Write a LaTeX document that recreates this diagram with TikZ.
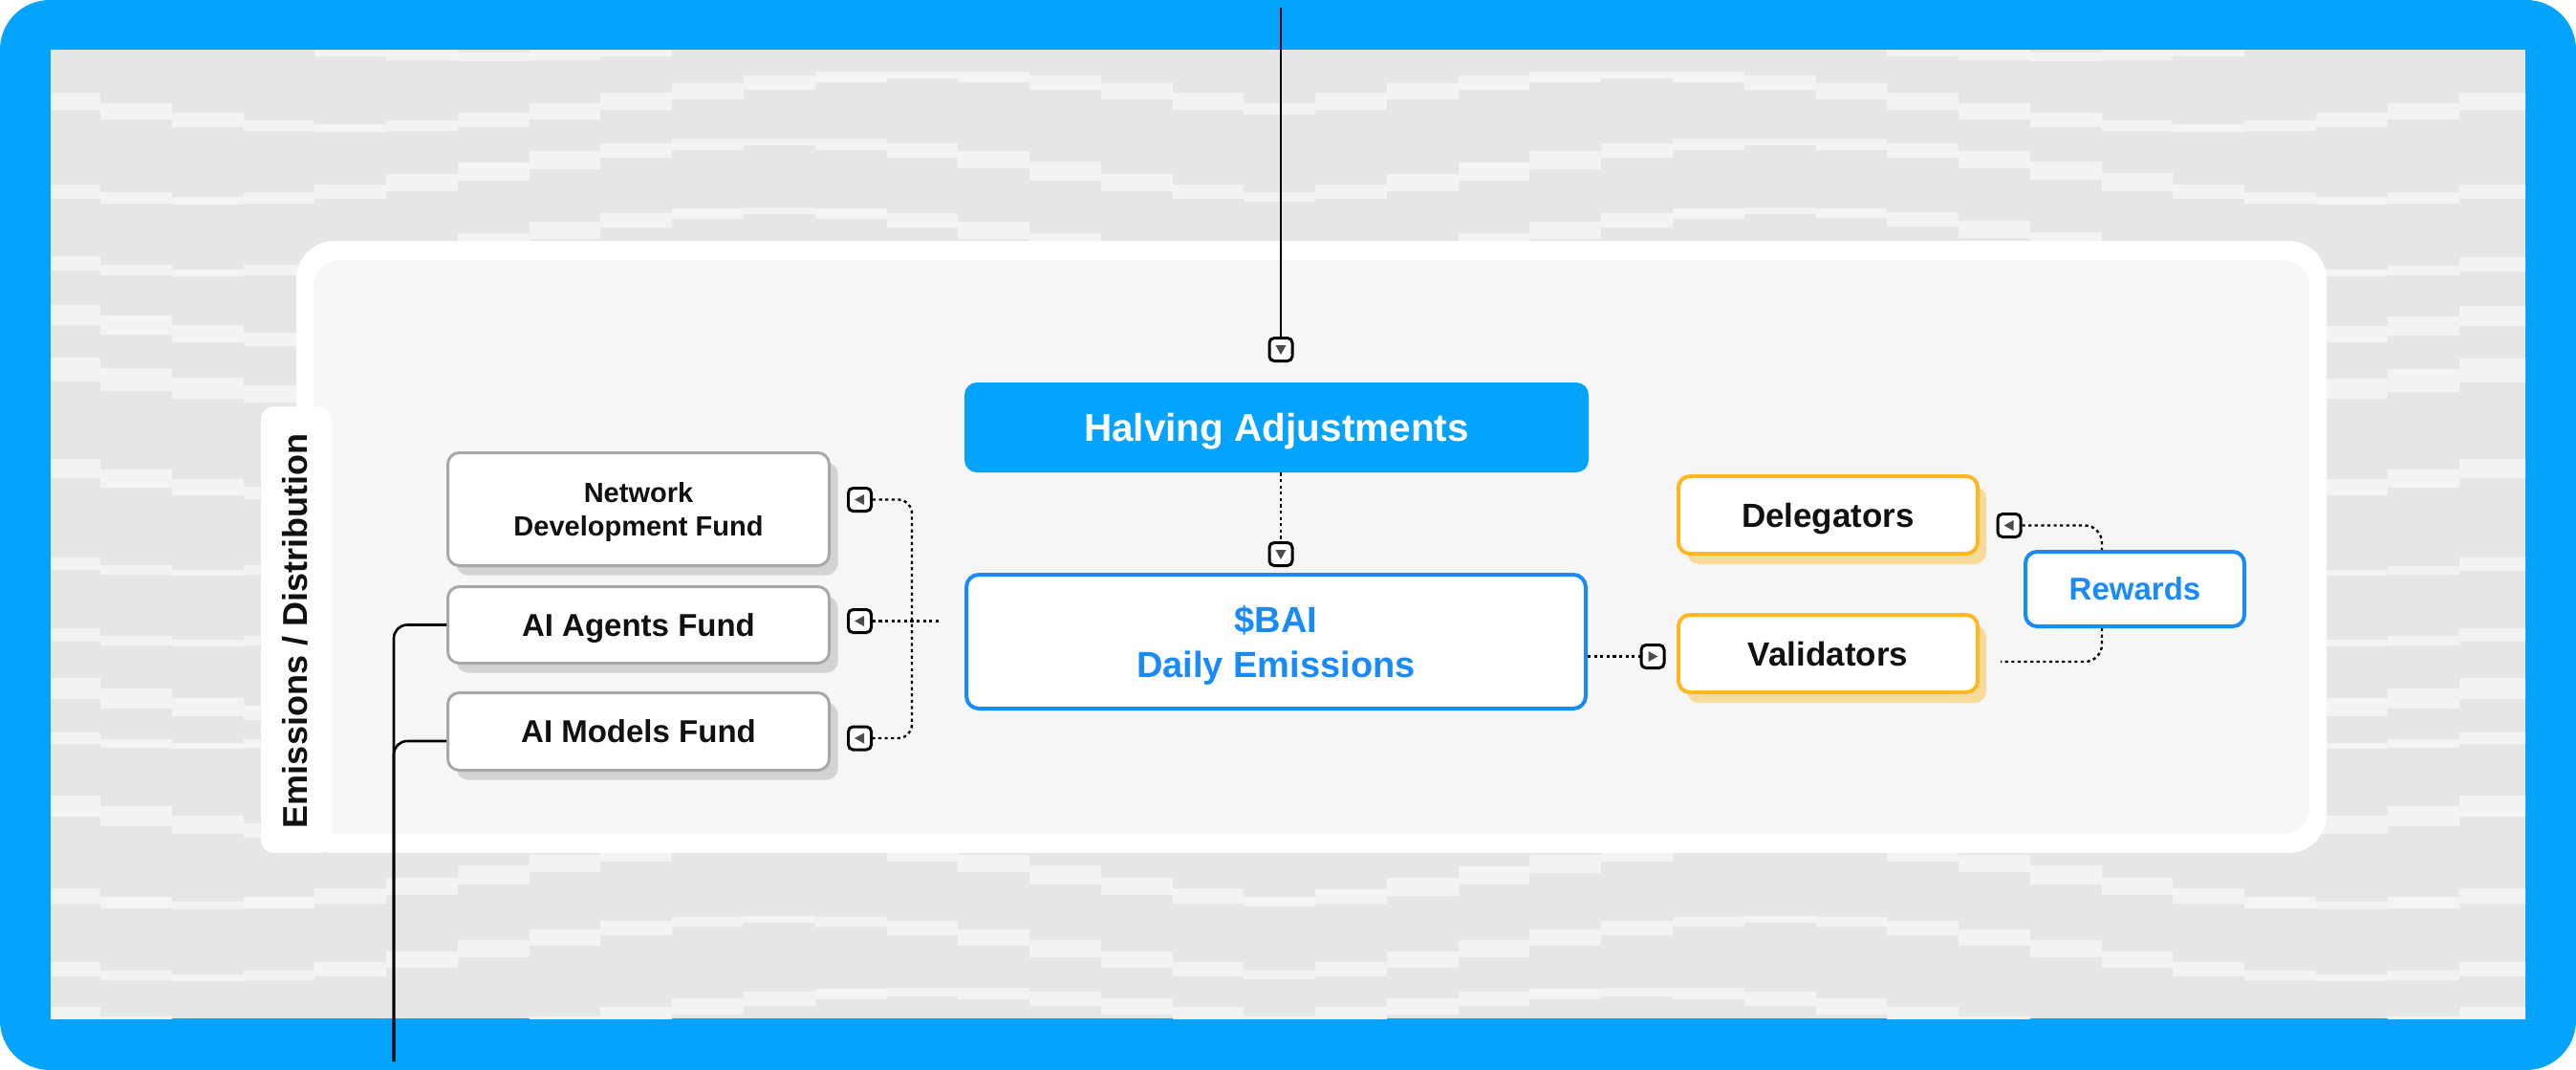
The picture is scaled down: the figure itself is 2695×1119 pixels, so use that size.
\documentclass[tikz,border=0pt]{standalone}
\usepackage{fontspec}
\setmainfont{Liberation Sans}
\usetikzlibrary{calc,shadows}
\definecolor{frameblue}{HTML}{03A3FE}
\definecolor{linkblue}{HTML}{1A8AF7}
\definecolor{bggray}{HTML}{E6E6E6}
\definecolor{stripecol}{HTML}{F3F3F3}
\definecolor{panelgray}{HTML}{F6F6F6}
\definecolor{boxgray}{HTML}{A8A8A8}
\definecolor{shgray}{HTML}{D3D3D3}
\definecolor{orng}{HTML}{FFB820}
\definecolor{shorng}{HTML}{F6DC9C}
\definecolor{trigray}{HTML}{4D4D4D}
\definecolor{ink}{HTML}{111111}
\newcommand\tridown[1]{\fill[trigray] ($(#1.center)+(-5.5,-4.5)$) -- ($(#1.center)+(5.5,-4.5)$) -- ($(#1.center)+(0,5.5)$) -- cycle;}
\newcommand\trileft[1]{\fill[trigray] ($(#1.center)+(4.5,-5.5)$) -- ($(#1.center)+(4.5,5.5)$) -- ($(#1.center)+(-5.5,0)$) -- cycle;}
\newcommand\triright[1]{\fill[trigray] ($(#1.center)+(-4.5,-5.5)$) -- ($(#1.center)+(-4.5,5.5)$) -- ($(#1.center)+(5.5,0)$) -- cycle;}
\begin{document}
\begin{tikzpicture}[x=0.5pt,y=-0.5pt,
  fundbox/.style={draw=boxgray, line width=1.5pt, fill=white, rounded corners=6pt,
    minimum width=199.5pt, inner sep=0pt, text=ink,
    general shadow={fill=shgray, shadow xshift=4.5pt, shadow yshift=-5pt},
    font=\fontsize{16.5pt}{19pt}\selectfont\bfseries},
  orbox/.style={draw=orng, line width=2pt, fill=white, rounded corners=6pt,
    minimum width=156.5pt, minimum height=40.5pt, inner sep=0pt, text=ink,
    text height=12.53pt, text depth=0pt,
    general shadow={fill=shorng, shadow xshift=4.5pt, shadow yshift=-5.5pt},
    font=\fontsize{17.5pt}{20pt}\selectfont\bfseries},
  halv/.style={fill=frameblue, rounded corners=6.5pt, minimum width=326.5pt,
    minimum height=47pt, inner sep=0pt, text=white, text height=14.5pt, text depth=0pt,
    font=\fontsize{20.25pt}{24pt}\selectfont\bfseries},
  baibox/.style={draw=linkblue, line width=2pt, fill=white, rounded corners=6.5pt,
    minimum width=324pt, minimum height=70pt, inner sep=0pt, align=center,
    text=linkblue, text depth=0pt, font=\fontsize{19pt}{23.5pt}\selectfont\bfseries},
  rwbox/.style={draw=linkblue, line width=2pt, fill=white, rounded corners=6pt,
    minimum width=114.5pt, minimum height=39pt, inner sep=0pt, text=linkblue,
    text height=11.81pt, text depth=0pt,
    font=\fontsize{16.5pt}{19pt}\selectfont\bfseries},
  mk/.style={draw=black, line width=1.5pt, fill=white, rounded corners=2.5pt,
    minimum width=12pt, minimum height=12pt, inner sep=0pt},
  dotline/.style={line width=1.2pt, dash pattern=on 1.6pt off 1.7pt, black},
  solidline/.style={line width=1.3pt, black},
  tablabel/.style={text=ink, inner sep=0pt, font=\fontsize{18pt}{20pt}\selectfont\bfseries}
]
\useasboundingbox (0,0) rectangle (2695,1119);
% outer frame
\fill[white] (0,0) rectangle (2695,1119);
\fill[frameblue, rounded corners=26pt] (0,0) rectangle (2695,1119);
\fill[bggray] (53,52) rectangle (2642,1065);
% background stripes
\begin{scope}
\clip (53,52) rectangle (2642,1065);
\foreach \pB/\pA/\pC/\pT in {32/28/225/8, 106/28/374/7, 179/31/524/7, 253/33/524/6,
   330/28/374/10, 387/28/374/14, 490/28/374/9, 569/30/524/5, 643/30/524/6,
   720/28/374/11, 754/26/524/5, 843/28/374/11, 915/32/524/7, 992/31/524/6, 1062/25/374/8}{
  \foreach \k in {0,...,35}{
    \pgfmathsetmacro\xl{30.3+74.77*\k}
    \pgfmathsetmacro\xr{\xl+74.77}
    \pgfmathsetmacro\xm{\xl+37.385}
    \pgfmathsetmacro\yl{\pB-\pA*cos(0.301003*(abs(\xl-1339.6)-\pC))}
    \pgfmathsetmacro\yr{\pB-\pA*cos(0.301003*(abs(\xr-1339.6)-\pC))}
    \pgfmathsetmacro\ym{\pB-\pA*cos(0.301003*(abs(\xm-1339.6)-\pC))}
    \pgfmathsetmacro\ya{min(\yl,\yr,\ym)-\pT/2}
    \pgfmathsetmacro\yb{max(\yl,\yr,\ym)+\pT/2}
    \fill[stripecol] (\xl,\ya) rectangle (\xr,\yb);
  }
}
\end{scope}
% panel
\fill[white, rounded corners=20pt] (310,252) rectangle (2434,892);
\fill[panelgray, rounded corners=14pt] (328,272) rectangle (2416,872);
% tab
\fill[white, rounded corners=7pt] (273,425) rectangle (347,892);
\node[tablabel, rotate=90] (tabtxt) at (309,660) {Emissions / Distribution};

% main nodes
\node[halv] (halving) at (1335.5,447) {Halving Adjustments};
\node[baibox] (bai) at (1335,671) {\$BAI\\Daily Emissions};
\node[fundbox, minimum height=59pt, align=center, text depth=0pt, font=\fontsize{14.5pt}{17.5pt}\selectfont\bfseries] (ndf) at (668,532.5) {Network\\Development Fund};
\node[fundbox, minimum height=40pt, text height=11.81pt, text depth=0pt] (agents) at (668,653.5) {AI Agents Fund};
\node[fundbox, minimum height=40.5pt, text height=11.81pt, text depth=0pt] (models) at (668,765) {AI Models Fund};
\node[orbox] (delegators) at (1912.5,538.5) {Delegators};
\node[orbox] (validators) at (1912.5,683.5) {Validators};
\node[rwbox] (rewards) at (2233.5,616) {Rewards};

% markers
\node[mk] (mtop) at (1340,365.5) {};
\node[mk] (mhalf) at (1340,579.5) {};
\node[mk] (mndf) at (899.5,522.5) {};
\node[mk] (magents) at (899.5,649.5) {};
\node[mk] (mmodels) at (899.5,772) {};
\node[mk] (mval) at (1729,686.5) {};
\node[mk] (mdel) at (2102,549.5) {};
\tridown{mtop}
\tridown{mhalf}
\trileft{mndf}
\trileft{magents}
\trileft{mmodels}
\triright{mval}
\trileft{mdel}

% connectors
\coordinate (topin) at (1340,8);
\draw[solidline] (topin) -- (mtop.north);
\draw[dotline] (halving.south -| mhalf.north) -- (mhalf.north);
\draw[dotline] (bai.east |- mval.west) -- (mval.west);
\coordinate (busin) at (982,649.5);
\coordinate (bus) at (954,649.5);
\draw[dotline] (busin) -- (magents.east);
\draw[dotline, rounded corners=7pt] (mndf.east) -| (bus) |- (mmodels.east);
\coordinate (rwx) at (2199,616);
\coordinate (vfree) at (2093,692);
\draw[dotline, rounded corners=9pt] (mdel.east) -| (rwx |- rewards.north);
\draw[dotline, rounded corners=9pt] (rwx |- rewards.south) |- (vfree);
\coordinate (lbot) at (412,1110);
\draw[solidline, rounded corners=7pt] (lbot) |- (agents.west);
\draw[solidline, rounded corners=7pt] (lbot) |- ($(models.west)+(0,10)$);
\end{tikzpicture}
\end{document}
